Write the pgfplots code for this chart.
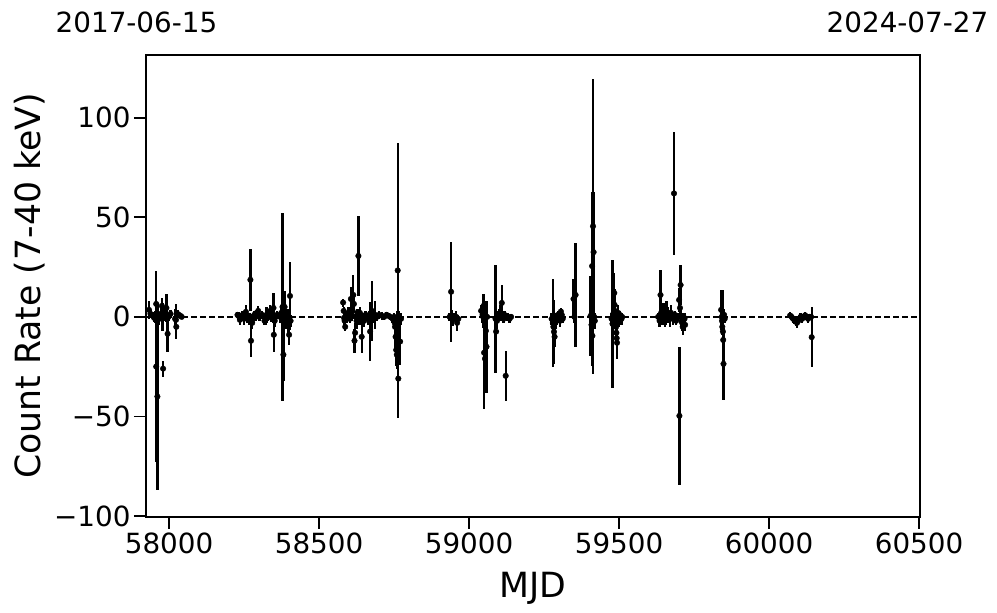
\documentclass[border=0pt]{standalone}
\usepackage{pgfplots}
\usepackage{pgfplotstable}
\pgfplotsset{compat=1.18}
\usepackage{fontspec}
\setmainfont{DejaVu Sans}

\pgfplotstableread{
x y e
57933 3.5 4.5
57938 1.5 2
57946 0.5 2
57950 -0.5 2
57953 0 3
57957 6.5 16
57957 -25 48
57961 -40 47
57963 0 4
57967 -1 3
57972 1.5 3
57976 5.5 4
57978 0 7
57980 -26 4
57984 1 3
57988 2 3
57991 4.5 7
57993 -1 6
57995 -8.5 9
57998 0 2
58005 1.5 2
58020 -1 5
58023 -1.5 8
58024 -5 6
58028 1.5 2
58033 1 1.5
58038 0.5 1
58042 0 1
58228 1 1.5
58231 0.5 2
58236 -1.5 2.5
58240 0 2
58245 1 2
58250 -1 3
58256 2.5 3.5
58260 0 3
58264 0 2
58268 -1 3
58271 18.6 15.5
58273 -12 8
58274 -2.5 4
58277 -3 3
58280 -1 3
58284 1 2
58288 0 2
58292 2 2
58297 3 2.5
58301 0 2
58310 1 2
58318 -2 2
58322 -1 3
58325 1 4
58330 0 2
58337 3 3
58341 -0.5 2
58345 0 2
58348 4.5 7.5
58349 -9 8.4
58352 -2 3
58356 0 2
58360 1 2
58370 0 3
58374 2 4
58378 5 47
58379 -2 30
58381 -19 13
58385 5 8
58388 -1 5
58392 -2 4
58395 1 3
58398 -4.5 5
58400 -9 5
58403 10.5 17
58405 -2 3
58580 7.2 2
58582 3 2
58583 -0.5 2
58585 -2 3
58587 -5 2
58590 1 2
58593 0 3
58598 2 3
58602 -1 2
58606 9 6
58609 1 3
58612 3 4
58614 11 10
58616 6.5 4
58618 -12 6
58620 -8 5
58622 0 3
58625 -2 4
58628 1 3
58631 30.6 20
58634 -1 3
58636 2 3
58638 0 2
58640 -1 3
58642 -10 8
58646 0 2
58650 -2 3
58655 1 2
58660 0 2
58664 -1 3
58668 1 2
58670 -7.4 15
58676 3 15
58680 0 3
58687 1 7
58693 0 2
58700 1 2
58710 0.5 2
58717 0 1.5
58725 1 1.5
58732 0.5 1.5
58737 0 1.5
58745 -1 2
58750 0 2
58752 -3 3
58753 -5 3
58755 -10 6
58757 -16.6 8
58759 -19 7
58760 -1 4
58762 23.3 64
58764 -31 20
58766 0 3
58770 -12.4 12
58773 -1 3
58935 0 2
58940 12.6 25
58942 0.5 3
58945 -1.5 3
58950 0 2
58957 0 3
58960 -3 4
58964 -1 2
59040 3 3
59045 1 4
59048 5.5 6
59048 -0.5 5
59050 -18 28.5
59053 -21 8
59056 -7 5
59058 -15 23
59060 0 3
59088 -1 27
59090 -7.4 6
59093 -2 4
59096 0 3
59100 1 3
59105 2 4
59109 7 9
59112 0 3
59115 -1 2
59118 1 2
59122 -29.6 12.5
59126 0 2
59130 0 2
59135 -1 2
59140 0 1.5
59275 -1 3
59279 -3 22
59281 -5 8
59283 -7.5 16
59285 -10 5
59288 -2 4
59290 0 2
59293 -1 3
59296 1 2
59300 0 2
59303 -2 3
59306 2.7 2
59309 1 2
59312 -1 2
59348 9 10
59351 0 3
59355 11 26
59405 0.5 20
59408 -4 10
59410 25.5 37
59411 -9.5 15
59413 45.5 74
59415 32.5 30
59417 0 5
59419 -2 4
59475 -1 3
59478 -3.5 32
59480 0 6
59482 2 5
59484 12 10
59485 6 8
59486 3 6
59487 1 4
59488 -1 3
59490 -5 5
59491 -8 6
59492 -10.7 7
59493 -13 8
59495 0 3
59497 2 4
59499 -2 3
59502 1 2
59505 0 2
59508 -1 3
59510 0 2
59630 0 2
59635 -2 3
59638 11 12.6
59640 2 5
59642 0 4
59645 -1 3
59648 3 4
59650 1 3
59652 -2 3
59655 0 4
59658 3 5
59660 -1 2
59663 2 3
59667 0 3
59670 -1 4
59673 2 4
59676 0 2
59680 -1 3
59683 62 30.7
59686 1 2
59690 -2 2
59695 0 2
59700 8.5 6
59701 -49.7 34.5
59703 4.5 5
59705 16 10
59706 0 5
59708 -2 3
59710 -3 4
59712 -5 4
59715 0 2
59718 -1 3
59720 -4 3
59840 3.5 10
59842 0 3
59843 -2 3
59844 -5 4
59846 -7.4 5
59847 -11.6 25
59848 -23.6 18
59850 1 3
59852 -1 2
60070 0.7 1.5
60075 0 1.5
60080 -1 2
60085 -1.5 2
60090 -2 2.5
60093 -3 2.5
60097 -2 2
60100 -1 2
60105 0 2
60110 -1 2
60115 0 1.5
60120 0.8 1.5
60125 0 1.5
60130 -1 2
60135 0 1.5
60140 0 1.5
60142 -10.2 15
}\lcdata

\begin{document}
\begin{tikzpicture}
\path[use as bounding box] (0,0) rectangle (997pt,613pt);
\begin{axis}[
  at={(146pt,96pt)}, anchor=south west,
  scale only axis, width=774pt, height=462pt,
  xmin=57923, xmax=60503, ymin=-100.5, ymax=131.5,
  scaled x ticks=false, scaled y ticks=false,
  axis line style={line width=1.1pt},
  xtick={58000,58500,59000,59500,60000,60500},
  xticklabels={58000,58500,59000,59500,60000,60500},
  ytick={-100,-50,0,50,100},
  yticklabels={−100,−50,0,50,100},
  tick align=outside, xtick pos=lower, ytick pos=left,
  major tick length=12pt,
  tick style={line width=1.8pt, black},
  ticklabel style={font=\fontsize{27.8}{30}\selectfont},
  xlabel={MJD},
  ylabel={Count Rate (7-40 keV)},
  label style={font=\fontsize{34.7}{40}\selectfont},
  xlabel style={at={(axis description cs:0.5,-0.175)}, anchor=base},
  ylabel style={at={(axis description cs:-0.150,0.5)}, anchor=center, rotate=0},
  clip=true,
]
\addplot[black, line width=1.4pt, dash pattern=on 6pt off 3pt] coordinates {(57923,0) (60503,0)};
\addplot[only marks, mark=*, mark size=2.8pt, black,
  error bars/.cd, y dir=both, y explicit, error mark=none,
  error bar style={line width=2.3pt, black}]
  table[x=x, y=y, y error=e]{\lcdata};
\end{axis}
\node[font=\fontsize{27.8}{30}\selectfont] at (136.5pt,591pt) {2017-06-15};
\node[font=\fontsize{27.8}{30}\selectfont] at (907.5pt,591pt) {2024-07-27};
\end{tikzpicture}
\end{document}
